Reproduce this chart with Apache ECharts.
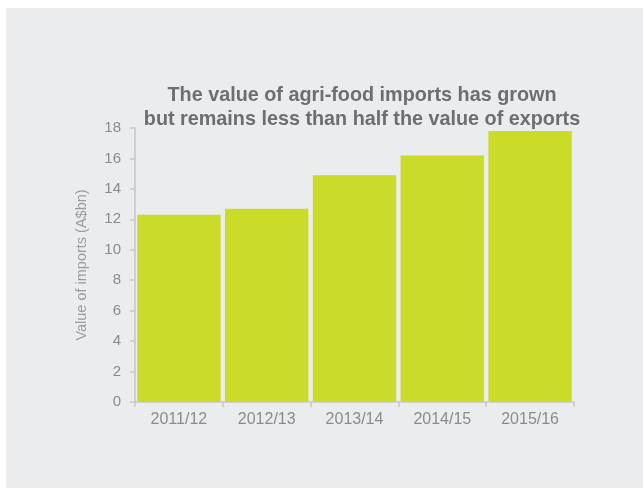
<!DOCTYPE html>
<html>
<head>
<meta charset="utf-8">
<script src="https://cdn.jsdelivr.net/npm/echarts@6/dist/echarts.min.js"></script>
<style>
  html, body { margin: 0; padding: 0; background: #ffffff; }
  #panel { position: absolute; left: 6px; top: 8px; width: 637px; height: 480px; background: #ebecee; }
  #chart { position: absolute; left: 0; top: 0; width: 643px; height: 489px; }
</style>
</head>
<body>
<div id="panel"></div>
<div id="chart"></div>
<script>
// Agri-food import values by financial year (A$ billion)
const years = ['2011/12', '2012/13', '2013/14', '2014/15', '2015/16'];
const importValues = [12.3, 12.7, 14.9, 16.2, 17.8];
const yTicks = { min: 0, max: 18, step: 2 };

const titleLines = [
  'The value of agri-food imports has grown',
  'but remains less than half the value of exports'
];

const chart = echarts.init(document.getElementById('chart'), null, { renderer: 'canvas' });

const axisGray = '#c6c7c9';
const labelGray = '#8a8b8d';

chart.setOption({
  backgroundColor: 'transparent',
  animation: false,
  title: {
    text: titleLines.join('\n'),
    left: 357,
    textAlign: 'center',
    top: 78,
    textStyle: {
      fontFamily: 'Liberation Sans, Arial, sans-serif',
      fontWeight: 'bold',
      fontSize: 19.8,
      lineHeight: 24.5,
      color: '#6d6e71'
    }
  },
  grid: { left: 135, top: 128, width: 439, height: 274, containLabel: false },
  xAxis: {
    type: 'category',
    data: years,
    axisLine: { show: true, lineStyle: { color: axisGray, width: 1.5 } },
    axisTick: { show: true, length: 5, lineStyle: { color: axisGray, width: 1.5 } },
    axisLabel: {
      color: labelGray,
      fontFamily: 'Liberation Sans, Arial, sans-serif',
      fontSize: 16,
      margin: 10
    },
    splitLine: { show: false }
  },
  yAxis: {
    type: 'value',
    min: yTicks.min,
    max: yTicks.max,
    interval: yTicks.step,
    name: 'Value of imports (A$bn)',
    nameLocation: 'middle',
    nameGap: 46,
    nameTextStyle: {
      color: '#9a9b9d',
      fontFamily: 'Liberation Sans, Arial, sans-serif',
      fontSize: 14.5
    },
    axisLine: { show: true, lineStyle: { color: axisGray, width: 1.5 } },
    axisTick: { show: true, length: 5, lineStyle: { color: axisGray, width: 1.5 } },
    axisLabel: {
      color: labelGray,
      fontFamily: 'Liberation Sans, Arial, sans-serif',
      fontSize: 15,
      margin: 14
    },
    splitLine: { show: false }
  },
  series: [{
    type: 'bar',
    data: importValues,
    barCategoryGap: '5%',
    itemStyle: { color: '#cbdb2a' }
  }]
});
</script>
</body>
</html>
